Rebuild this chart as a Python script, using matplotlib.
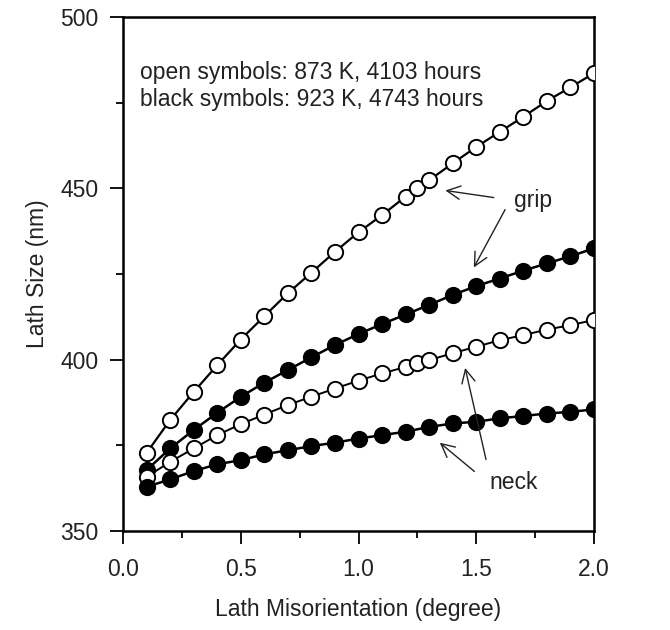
import numpy as np
import matplotlib
matplotlib.use("Agg")
import matplotlib.pyplot as plt
from matplotlib.ticker import MultipleLocator

# x positions (degree)
x_std = [0.1, 0.2, 0.3, 0.4, 0.5, 0.6, 0.7, 0.8, 0.9, 1.0,
         1.1, 1.2, 1.3, 1.4, 1.5, 1.6, 1.7, 1.8, 1.9, 2.0]
x_open = [0.1, 0.2, 0.3, 0.4, 0.5, 0.6, 0.7, 0.8, 0.9, 1.0,
          1.1, 1.2, 1.25, 1.3, 1.4, 1.5, 1.6, 1.7, 1.8, 1.9, 2.0]

# lath size (nm)
grip_873 = [372.8, 382.4, 390.6, 398.4, 405.9, 412.7, 419.4, 425.4, 431.5, 437.2,
            442.2, 447.6, 450.0, 452.4, 457.3, 462.1, 466.5, 470.9, 475.5, 479.5, 483.6]
neck_873 = [365.8, 370.2, 374.1, 378.0, 381.2, 384.0, 386.8, 389.2, 391.6, 393.9,
            396.0, 397.9, 398.9, 399.9, 401.9, 403.8, 405.7, 407.2, 408.8, 410.1, 411.6]
grip_923 = [367.8, 374.1, 379.5, 384.5, 389.2, 393.3, 397.0, 400.7, 404.3, 407.5,
            410.4, 413.2, 416.0, 418.9, 421.5, 423.7, 426.0, 428.1, 430.2, 432.5]
neck_923 = [362.9, 365.1, 367.5, 369.5, 370.7, 372.4, 373.6, 374.8, 375.8, 377.0,
            378.0, 379.0, 380.4, 381.4, 381.9, 382.9, 383.6, 384.3, 384.8, 385.5]

note_lines = ['open symbols: 873 K, 4103 hours', 'black symbols: 923 K, 4743 hours']

plt.rcParams['font.family'] = ['Liberation Sans', 'DejaVu Sans']
txt = '#222222'
fs = 16.5

fig = plt.figure(figsize=(6.7, 6.3), dpi=100)
ax = fig.add_axes([0.1836, 0.157, 0.703, 0.816])

ms = 11
ax.plot(x_open, grip_873, '-o', color='black', lw=1.6, ms=ms, mfc='white', mec='black', mew=1.4, zorder=3)
ax.plot(x_std, grip_923, '-o', color='black', lw=1.8, ms=ms, mfc='black', mec='black', mew=1.4, zorder=3)
ax.plot(x_open, neck_873, '-o', color='black', lw=1.4, ms=ms, mfc='white', mec='black', mew=1.4, zorder=3)
ax.plot(x_std, neck_923, '-o', color='black', lw=1.8, ms=ms, mfc='black', mec='black', mew=1.4, zorder=3)

ax.set_xlim(0, 2.0)
ax.set_ylim(350, 500)
ax.xaxis.set_major_locator(MultipleLocator(0.5))
ax.xaxis.set_minor_locator(MultipleLocator(0.25))
ax.yaxis.set_major_locator(MultipleLocator(50))
ax.yaxis.set_minor_locator(MultipleLocator(25))
ax.xaxis.set_major_formatter(matplotlib.ticker.FormatStrFormatter('%.1f'))
ax.tick_params(which='major', direction='out', length=9.5, width=1.3, labelsize=fs,
               labelcolor=txt)
ax.tick_params(axis='x', which='major', pad=10)
ax.tick_params(axis='y', which='major', pad=8)
ax.tick_params(which='minor', direction='out', length=5, width=1.3)
for s in ax.spines.values():
    s.set_linewidth(1.8)

ax.set_xlabel('Lath Misorientation (degree)', fontsize=fs, color=txt, labelpad=12)
ax.set_ylabel('Lath Size (nm)', fontsize=fs, color=txt, labelpad=8)

ax.text(0.072, 483.9, note_lines[0], fontsize=fs, color=txt, va='center', ha='left')
ax.text(0.072, 475.8, note_lines[1], fontsize=fs, color=txt, va='center', ha='left')

arrow = dict(arrowstyle='->', color='#222222', lw=1.0, mutation_scale=24)
ax.text(1.74, 446.6, 'grip', fontsize=fs, color=txt, ha='center', va='center')
ax.annotate('', xy=(1.357, 449.5), xytext=(1.586, 447.2), arrowprops=arrow)
ax.annotate('', xy=(1.484, 426.2), xytext=(1.628, 444.5), arrowprops=arrow)
ax.text(1.66, 364.3, 'neck', fontsize=fs, color=txt, ha='center', va='center')
ax.annotate('', xy=(1.336, 376.3), xytext=(1.501, 366.9), arrowprops=arrow)
ax.annotate('', xy=(1.450, 398.4), xytext=(1.544, 370.1), arrowprops=arrow)

fig.savefig('out.png', dpi=100)
